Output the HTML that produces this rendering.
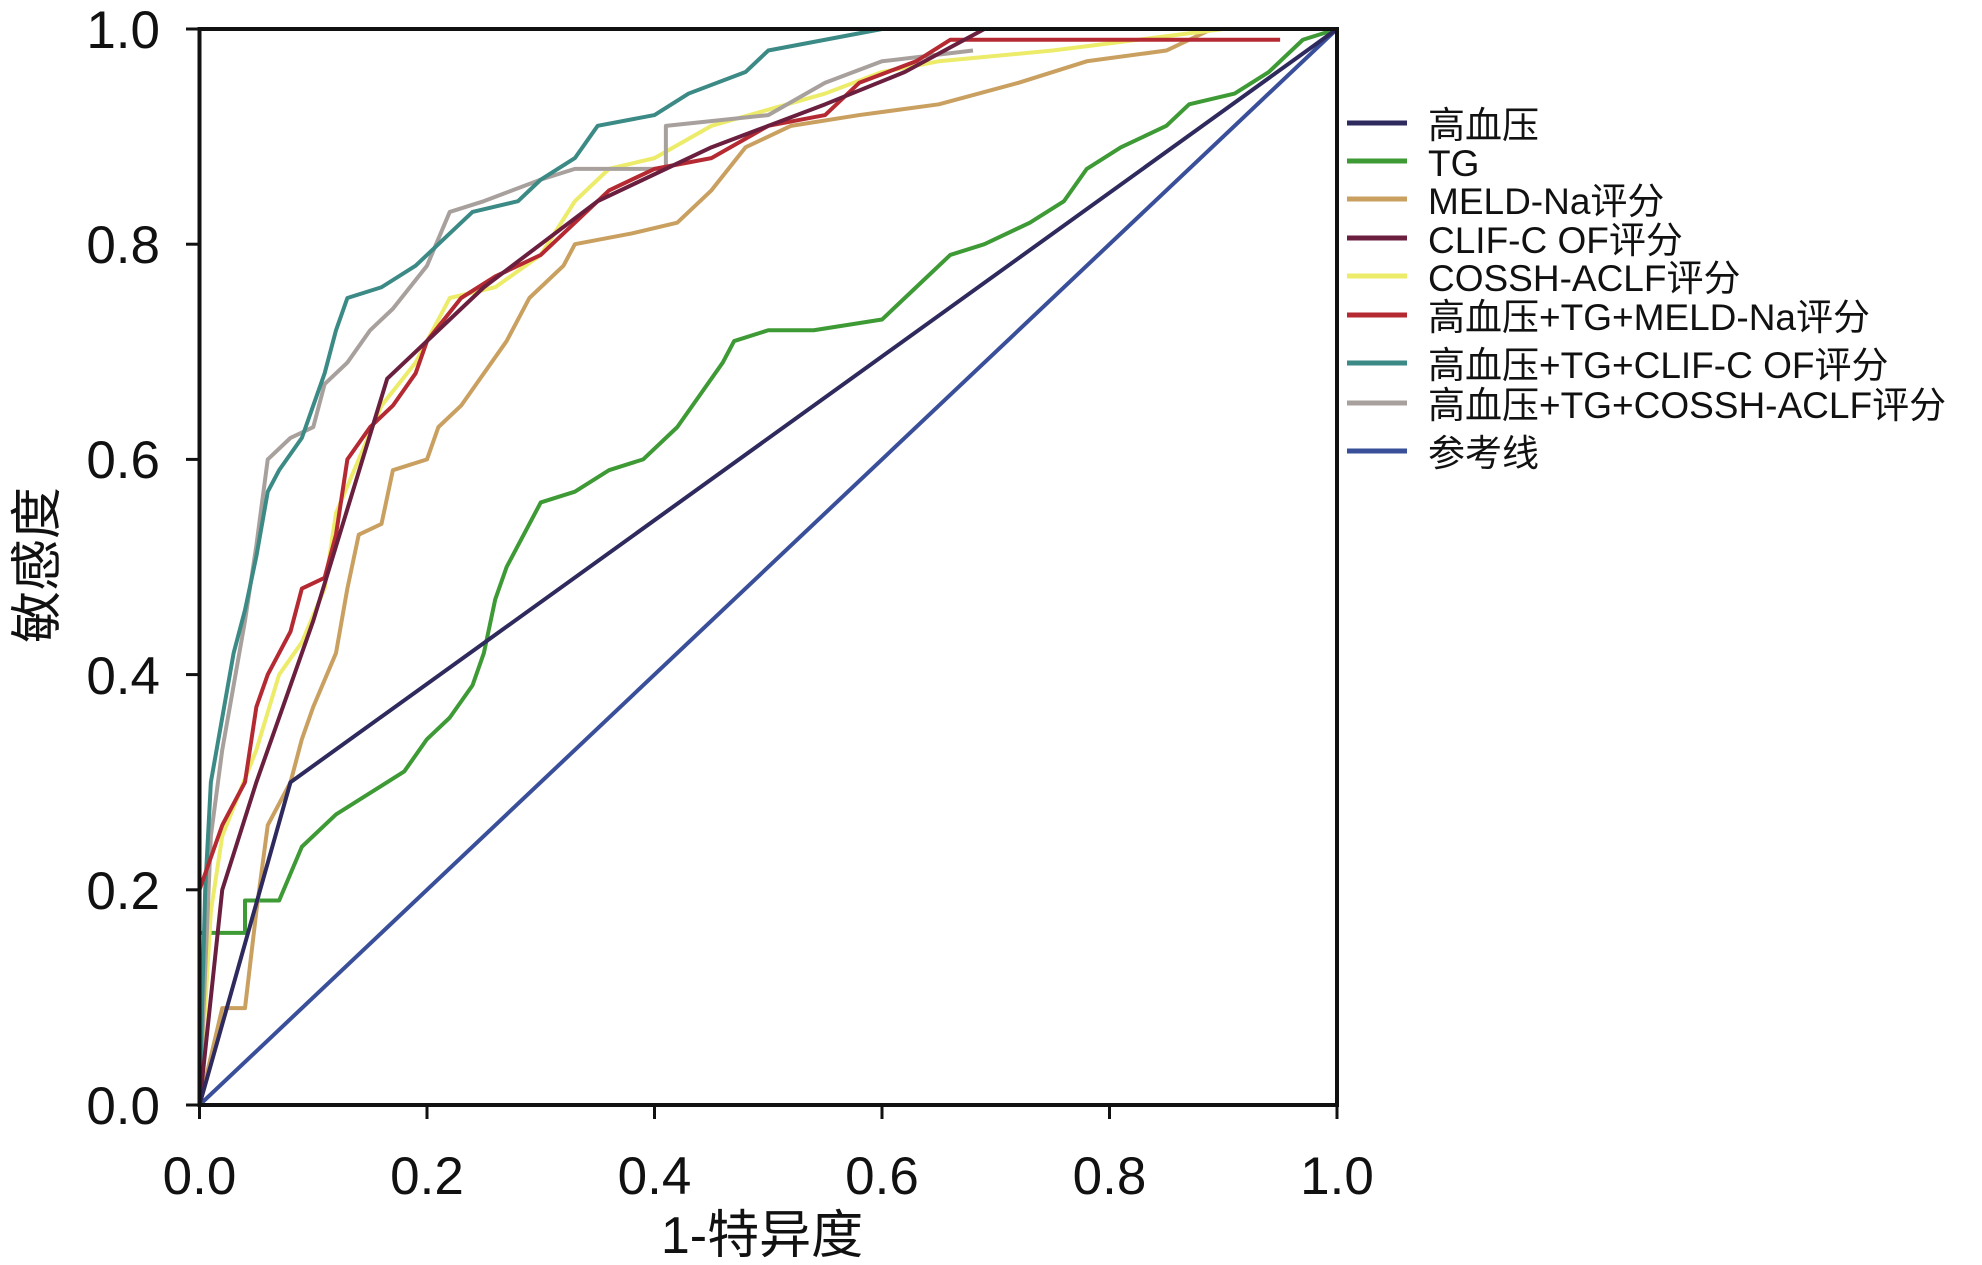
<!DOCTYPE html>
<html><head><meta charset="utf-8"><style>
html,body{margin:0;padding:0;background:#fff;}
svg{display:block;}
text{font-family:"Liberation Sans","Noto Sans CJK SC",sans-serif;fill:#111;}
</style></head><body>
<svg width="1982" height="1265" viewBox="0 0 1982 1265" xmlns="http://www.w3.org/2000/svg">
<g transform="translate(199.5,1105) scale(1137.5,-1076)" fill="none" stroke-width="4" stroke-linejoin="round">
<polyline vector-effect="non-scaling-stroke" stroke="#3a4f9a" points="0,0 1,1"/>
<polyline vector-effect="non-scaling-stroke" stroke="#3e9a35" points="0,0 0,0.16 0.04,0.16 0.04,0.19 0.07,0.19 0.09,0.24 0.12,0.27 0.15,0.29 0.18,0.31 0.2,0.34 0.22,0.36 0.24,0.39 0.25,0.42 0.26,0.47 0.27,0.5 0.29,0.54 0.3,0.56 0.33,0.57 0.36,0.59 0.39,0.6 0.42,0.63 0.44,0.66 0.46,0.69 0.47,0.71 0.5,0.72 0.54,0.72 0.6,0.73 0.63,0.76 0.66,0.79 0.69,0.8 0.73,0.82 0.76,0.84 0.78,0.87 0.81,0.89 0.85,0.91 0.87,0.93 0.91,0.94 0.94,0.96 0.97,0.99 1,1"/>
<polyline vector-effect="non-scaling-stroke" stroke="#c9a060" points="0,0 0.02,0.09 0.04,0.09 0.05,0.18 0.06,0.26 0.08,0.3 0.09,0.34 0.1,0.37 0.12,0.42 0.13,0.48 0.14,0.53 0.16,0.54 0.17,0.59 0.2,0.6 0.21,0.63 0.23,0.65 0.27,0.71 0.29,0.75 0.32,0.78 0.33,0.8 0.38,0.81 0.42,0.82 0.45,0.85 0.48,0.89 0.52,0.91 0.58,0.92 0.65,0.93 0.72,0.95 0.78,0.97 0.85,0.98 0.89,1.0 1,1"/>
<polyline vector-effect="non-scaling-stroke" stroke="#ecec6a" points="0,0 0.01,0.18 0.02,0.25 0.05,0.33 0.07,0.4 0.09,0.43 0.11,0.48 0.12,0.55 0.14,0.6 0.16,0.65 0.19,0.69 0.22,0.75 0.26,0.76 0.3,0.79 0.33,0.84 0.36,0.87 0.4,0.88 0.45,0.91 0.55,0.94 0.6,0.96 0.65,0.97 0.75,0.98 0.9,1 1,1"/>
<polyline vector-effect="non-scaling-stroke" stroke="#a8a09c" points="0,0 0.01,0.25 0.02,0.33 0.03,0.39 0.04,0.45 0.05,0.52 0.06,0.6 0.08,0.62 0.1,0.63 0.11,0.67 0.13,0.69 0.15,0.72 0.17,0.74 0.2,0.78 0.22,0.83 0.25,0.84 0.3,0.86 0.33,0.87 0.41,0.87 0.41,0.91 0.5,0.92 0.55,0.95 0.6,0.97 0.68,0.98"/>
<polyline vector-effect="non-scaling-stroke" stroke="#3b8a85" points="0,0 0.005,0.2 0.01,0.3 0.02,0.36 0.03,0.42 0.04,0.46 0.05,0.51 0.06,0.57 0.07,0.59 0.09,0.62 0.1,0.65 0.11,0.68 0.12,0.72 0.13,0.75 0.16,0.76 0.19,0.78 0.21,0.8 0.24,0.83 0.28,0.84 0.3,0.86 0.33,0.88 0.35,0.91 0.4,0.92 0.43,0.94 0.48,0.96 0.5,0.98 0.55,0.99 0.6,1 0.7,1"/>
<polyline vector-effect="non-scaling-stroke" stroke="#b52a32" points="0,0 0,0.2 0.01,0.23 0.02,0.26 0.04,0.3 0.05,0.37 0.06,0.4 0.08,0.44 0.09,0.48 0.11,0.49 0.12,0.53 0.13,0.6 0.15,0.63 0.17,0.65 0.19,0.68 0.2,0.71 0.23,0.75 0.26,0.77 0.3,0.79 0.33,0.82 0.36,0.85 0.4,0.87 0.45,0.88 0.5,0.91 0.55,0.92 0.58,0.95 0.63,0.97 0.66,0.99 0.95,0.99"/>
<polyline vector-effect="non-scaling-stroke" stroke="#6b1f3f" points="0,0 0.02,0.2 0.05,0.3 0.1,0.45 0.165,0.675 0.25,0.76 0.35,0.84 0.45,0.89 0.55,0.93 0.62,0.96 0.69,1.0"/>
<polyline vector-effect="non-scaling-stroke" stroke="#2e2a5e" points="0,0 0.08,0.3 1,1"/>
</g>
<rect x="199.5" y="29" width="1137.5" height="1076" fill="none" stroke="#111" stroke-width="4"/>
<g stroke="#111" stroke-width="3">
<line x1="199.5" y1="1105" x2="199.5" y2="1119"/><line x1="427" y1="1105" x2="427" y2="1119"/><line x1="654.5" y1="1105" x2="654.5" y2="1119"/><line x1="882" y1="1105" x2="882" y2="1119"/><line x1="1109.5" y1="1105" x2="1109.5" y2="1119"/><line x1="1337" y1="1105" x2="1337" y2="1119"/>
<line x1="186" y1="1105" x2="199.5" y2="1105"/><line x1="186" y1="889.8" x2="199.5" y2="889.8"/><line x1="186" y1="674.6" x2="199.5" y2="674.6"/><line x1="186" y1="459.4" x2="199.5" y2="459.4"/><line x1="186" y1="244.2" x2="199.5" y2="244.2"/><line x1="186" y1="29" x2="199.5" y2="29"/>
</g>
<g font-size="53" text-anchor="middle">
<text x="199.5" y="1194">0.0</text><text x="427" y="1194">0.2</text><text x="654.5" y="1194">0.4</text><text x="882" y="1194">0.6</text><text x="1109.5" y="1194">0.8</text><text x="1337" y="1194">1.0</text>
</g>
<g font-size="53" text-anchor="end">
<text x="160" y="1124">0.0</text><text x="160" y="909">0.2</text><text x="160" y="694">0.4</text><text x="160" y="478">0.6</text><text x="160" y="263">0.8</text><text x="160" y="48">1.0</text>
</g>
<text x="762" y="1253" font-size="52" text-anchor="middle">1-特异度</text>
<text transform="translate(55,565) rotate(-90)" font-size="52" text-anchor="middle">敏感度</text>
<g stroke-width="5">
<line x1="1347" y1="123" x2="1407" y2="123" stroke="#2e2a5e"/>
<line x1="1347" y1="161" x2="1407" y2="161" stroke="#3e9a35"/>
<line x1="1347" y1="199" x2="1407" y2="199" stroke="#c9a060"/>
<line x1="1347" y1="238" x2="1407" y2="238" stroke="#6b1f3f"/>
<line x1="1347" y1="276" x2="1407" y2="276" stroke="#ecec6a"/>
<line x1="1347" y1="315" x2="1407" y2="315" stroke="#b52a32"/>
<line x1="1347" y1="363" x2="1407" y2="363" stroke="#3b8a85"/>
<line x1="1347" y1="403" x2="1407" y2="403" stroke="#a8a09c"/>
<line x1="1347" y1="451" x2="1407" y2="451" stroke="#3a4f9a"/>
</g>
<g font-size="37">
<text x="1428" y="138">高血压</text>
<text x="1428" y="176">TG</text>
<text x="1428" y="214">MELD-Na评分</text>
<text x="1428" y="253">CLIF-C OF评分</text>
<text x="1428" y="291">COSSH-ACLF评分</text>
<text x="1428" y="330">高血压+TG+MELD-Na评分</text>
<text x="1428" y="378">高血压+TG+CLIF-C OF评分</text>
<text x="1428" y="418">高血压+TG+COSSH-ACLF评分</text>
<text x="1428" y="466">参考线</text>
</g>
</svg>
</body></html>
